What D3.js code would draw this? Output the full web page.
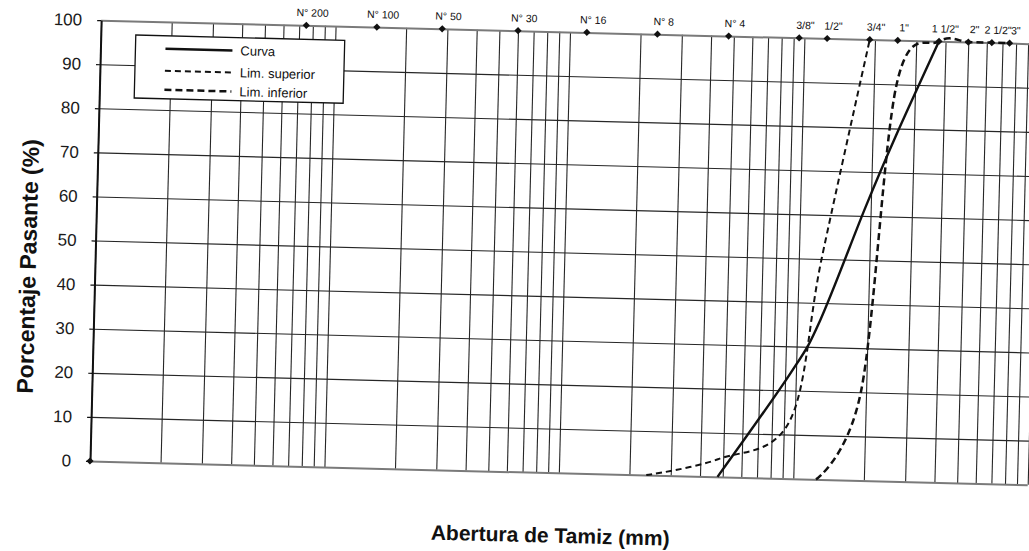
<!DOCTYPE html>
<html>
<head>
<meta charset="utf-8">
<script src="https://cdn.jsdelivr.net/npm/d3@7"></script>
<style>
  html, body { margin: 0; padding: 0; background: #fff; }
  svg { display: block; font-family: "Liberation Sans", Arial, sans-serif; }
</style>
</head>
<body>
<script>
'use strict';

// sieve names and openings (mm), shown as diamonds on the 100 % line
const sieveNames = ["N° 200", "N° 100", "N° 50", "N° 30", "N° 16", "N° 8", "N° 4",
  "3/8\"", "1/2\"", "3/4\"", "1\"", "1 1/2\"", "2\"", "2 1/2\"", "3\""];
const sieveMm = [0.075, 0.15, 0.285, 0.6, 1.18, 2.36, 4.75, 9.5, 12.5, 19, 25, 37.5, 50, 63, 75];

// grading curve
const curvaMm  = [4.75, 9.5, 12.5, 19, 25, 37.5];
const curvaPct = [0, 24, 36, 62, 78, 100];

// upper limit
const limSupMm  = [2.36, 4.75, 9.5, 12.5, 19];
const limSupPct = [0, 4, 13, 50, 100];

// lower limit
const limInfMm  = [12.5, 19, 25, 37.5, 50, 63, 75];
const limInfPct = [0, 20, 90, 100, 100, 100, 100];

const yTicks = [0, 10, 20, 30, 40, 50, 60, 70, 80, 90, 100];
const legendNames = ["Curva", "Lim. superior", "Lim. inferior"];

(function() {
  const width = 1029, height = 551;
  const ox = 90, oy = 461, decade = 234.5, plotH = 441;
  const plotW = 4 * decade;

  const svg = d3.select('body').append('svg')
    .attr('width', width)
    .attr('height', height);

  svg.append('rect').attr('width', width).attr('height', height).attr('fill', '#fff');

  // the scanned sheet is slightly tilted
  const g = svg.append('g').attr('transform', `rotate(1.45,${ox},${oy})`);

  const x = d3.scaleLog().domain([0.01, 100]).range([ox, ox + plotW]);
  const y = d3.scaleLinear().domain([0, 100]).range([oy, oy - plotH]);

  // vertical log grid
  const vGrid = g.append('g')
    .attr('transform', `translate(0,${oy})`)
    .call(d3.axisBottom(x).tickValues(x.ticks()).tickSize(-plotH).tickFormat(''));
  vGrid.select('.domain').remove();
  vGrid.selectAll('line').attr('stroke', '#262626').attr('stroke-width', 1.1);

  // horizontal grid
  const hGrid = g.append('g')
    .attr('transform', `translate(${ox},0)`)
    .call(d3.axisLeft(y).tickValues(yTicks).tickSize(-plotW).tickFormat(''));
  hGrid.select('.domain').remove();
  hGrid.selectAll('.tick line')
    .attr('stroke', d => (d === 0 || d === 100) ? '#7a7a7a' : '#262626')
    .attr('stroke-width', d => (d === 0 || d === 100) ? 2 : 1.1);

  // left axis with ticks and labels
  const yAxis = g.append('g')
    .attr('transform', `translate(${ox},0)`)
    .call(d3.axisLeft(y).tickValues(yTicks).tickSize(4).tickSizeOuter(0).tickPadding(15));
  yAxis.select('.domain').attr('stroke', '#111').attr('stroke-width', 2);
  yAxis.selectAll('line').attr('stroke', '#111').attr('stroke-width', 1.2);
  yAxis.selectAll('text')
    .style('font-size', '17px')
    .style('font-family', '"Liberation Sans", Arial, sans-serif')
    .attr('fill', '#1a1a1a');

  // curves, smoothed the way the spreadsheet does it
  const line = d3.line()
    .x(d => x(d[0]))
    .y(d => y(d[1]))
    .curve(d3.curveCatmullRom.alpha(0));

  const series = [
    { mm: curvaMm, pct: curvaPct, dash: null, w: 2.4 },
    { mm: limSupMm, pct: limSupPct, dash: '6,4', w: 2 },
    { mm: limInfMm, pct: limInfPct, dash: '7,4', w: 2.5 }
  ];

  series.forEach(s => {
    g.append('path')
      .datum(s.mm.map((m, i) => [m, s.pct[i]]))
      .attr('fill', 'none')
      .attr('stroke', '#111')
      .attr('stroke-width', s.w)
      .attr('stroke-dasharray', s.dash)
      .attr('d', line);
  });

  // sieve markers and names
  const diamond = d3.symbol().type(d3.symbolSquare).size(26);
  g.selectAll('.sieve')
    .data(sieveMm)
    .enter()
    .append('path')
      .attr('class', 'sieve')
      .attr('d', diamond)
      .attr('fill', '#111')
      .attr('transform', d => `translate(${x(d)},${y(100)}) rotate(45)`);

  g.append('path')
    .attr('d', diamond)
    .attr('fill', '#111')
    .attr('transform', `translate(${x(0.01)},${y(0)}) rotate(45)`);

  g.selectAll('.sieve-label')
    .data(sieveMm)
    .enter()
    .append('text')
      .attr('class', 'sieve-label')
      .attr('x', d => x(d) + 6)
      .attr('y', y(100) - 9)
      .attr('text-anchor', 'middle')
      .style('font-size', '10.5px')
      .attr('fill', '#111')
      .text((d, i) => sieveNames[i]);

  // legend
  const legend = g.append('g').attr('transform', 'translate(125,34)');
  legend.append('rect')
    .attr('width', 209)
    .attr('height', 63)
    .attr('fill', '#fff')
    .attr('stroke', '#111')
    .attr('stroke-width', 1.3);

  const rowY = [13, 35, 54];
  series.forEach((s, i) => {
    legend.append('line')
      .attr('x1', 30).attr('x2', 97)
      .attr('y1', rowY[i]).attr('y2', rowY[i])
      .attr('stroke', '#111')
      .attr('stroke-width', s.w)
      .attr('stroke-dasharray', s.dash);
    legend.append('text')
      .attr('x', 105)
      .attr('y', rowY[i])
      .attr('dy', '0.35em')
      .style('font-size', '13px')
      .attr('fill', '#111')
      .text(legendNames[i]);
  });

  // axis titles
  g.append('text')
    .attr('transform', 'translate(31,268) rotate(-90)')
    .attr('text-anchor', 'middle')
    .style('font-size', '23px')
    .style('font-weight', 'bold')
    .attr('fill', '#111')
    .text('Porcentaje Pasante (%)');

  g.append('text')
    .attr('x', 552)
    .attr('y', 531)
    .attr('text-anchor', 'middle')
    .style('font-size', '21px')
    .style('font-weight', 'bold')
    .attr('fill', '#111')
    .text('Abertura de Tamiz (mm)');
})();
</script>
</body>
</html>
